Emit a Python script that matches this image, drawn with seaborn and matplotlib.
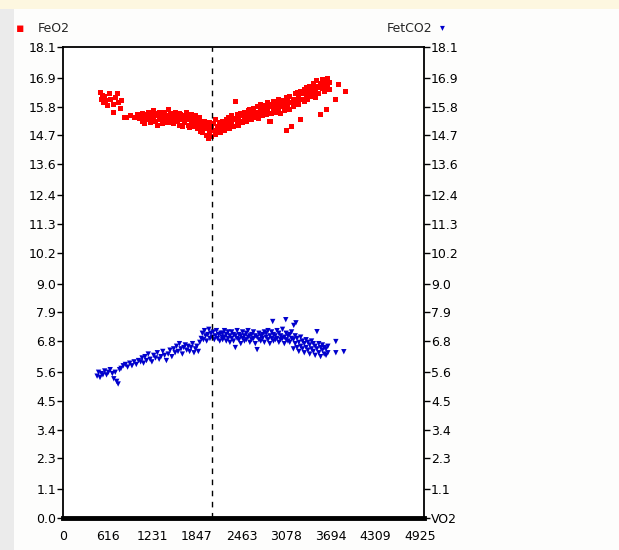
import matplotlib
matplotlib.use("Agg")
import matplotlib.pyplot as plt
import matplotlib.patches as mpatches
import numpy as np
import pandas as pd
import seaborn as sns

# ---------------- data ----------------
feo2_x = [510, 525, 540, 555, 570, 590, 610, 640, 660, 690, 700, 720, 745, 770, 790, 810,
          850, 880, 930, 980, 1020, 1060,
          1100, 1100, 1125, 1125, 1150, 1150, 1175, 1175, 1200, 1200, 1225, 1225, 1250, 1250,
          1275, 1275, 1300, 1300, 1325, 1325, 1350, 1350, 1375, 1375, 1400, 1400, 1425, 1425,
          1450, 1450, 1475, 1475, 1500, 1500,
          1525, 1525, 1550, 1550, 1575, 1575, 1600, 1600, 1625, 1625, 1650, 1650, 1675, 1675,
          1700, 1700, 1725, 1725, 1750, 1750, 1775, 1775, 1800, 1800, 1825, 1825, 1850, 1850,
          1875, 1875, 1900, 1900,
          1925, 1925, 1950, 1950, 1975, 1975, 2000, 2000, 2025, 2025, 2050, 2050, 2075, 2075,
          2100, 2100, 2125, 2125, 2150, 2150, 2175, 2175, 2200, 2200, 2225, 2225, 2250, 2250,
          2275, 2275, 2300, 2300, 2325, 2325, 2350, 2350, 2375, 2375, 2400, 2400, 2425, 2425,
          2450, 2450, 2475, 2475, 2500, 2500,
          2525, 2525, 2550, 2550, 2575, 2575, 2600, 2600, 2625, 2625, 2650, 2650, 2675, 2675,
          2700, 2700, 2725, 2725, 2750, 2750, 2775, 2775, 2800, 2800, 2825, 2825, 2850, 2850,
          2875, 2875, 2900, 2900,
          2925, 2925, 2950, 2950, 2975, 2975, 3000, 3000, 3025, 3025, 3050, 3050, 3075, 3075,
          3100, 3100, 3125, 3125, 3150, 3150, 3175, 3175, 3200, 3200,
          3225, 3225, 3250, 3250, 3275, 3275, 3300, 3300, 3325, 3325, 3350, 3350, 3375, 3375,
          3400, 3400, 3425, 3425, 3450, 3450, 3475, 3475, 3500, 3500, 3525, 3525, 3550, 3550,
          3575, 3575, 3600, 3600, 3625, 3625, 3650, 3650, 3675, 3675,
          3760, 3790, 3900, 2860]
feo2_y = [16.35, 16.1, 16.25, 15.95, 16.2, 16.05, 15.85, 16.3, 16.1, 15.9, 15.6, 16.15, 16.3, 15.95, 15.75, 16.05,
          15.4, 15.4, 15.45, 15.4, 15.5, 15.35,
          15.55, 15.25, 15.4, 15.15, 15.5, 15.3, 15.35, 15.6, 15.2, 15.45, 15.5, 15.3, 15.65, 15.35,
          15.25, 15.45, 15.55, 15.1, 15.4, 15.6, 15.3, 15.5, 15.15, 15.45, 15.6, 15.35, 15.45, 15.2,
          15.7, 15.3, 15.35, 15.55, 15.2, 15.45,
          15.5, 15.15, 15.35, 15.6, 15.25, 15.45, 15.55, 15.1, 15.3, 15.5, 15.45, 15.05, 15.2, 15.4,
          15.6, 15.3, 15.1, 15.45, 15.35, 15.0, 15.5, 15.2, 15.3, 15.05, 15.45, 15.15, 14.95, 15.3,
          15.2, 15.4, 15.05, 14.85,
          15.15, 14.8, 14.95, 15.25, 14.7, 15.05, 15.1, 14.6, 14.85, 15.2, 15.0, 14.65, 14.9, 15.15,
          14.75, 15.3, 15.05, 14.85, 15.2, 14.95, 14.8, 15.1, 15.0, 15.25, 15.15, 14.9, 15.3, 15.05,
          15.1, 15.4, 15.25, 14.95, 15.45, 15.15, 15.3, 15.05, 16.0, 15.35, 15.2, 15.5, 15.4, 15.1,
          15.25, 15.55, 15.45, 15.2, 15.35, 15.6,
          15.5, 15.25, 15.65, 15.4, 15.35, 15.7, 15.55, 15.3, 15.75, 15.45, 15.4, 15.6, 15.8, 15.5,
          15.55, 15.35, 15.7, 15.9, 15.45, 15.65, 15.85, 15.6, 15.5, 15.75, 15.95, 15.65, 15.25, 15.8,
          15.55, 15.9, 15.7, 16.0,
          15.6, 15.85, 16.0, 15.7, 15.75, 16.1, 15.55, 15.9, 16.05, 15.8, 15.65, 15.95, 14.9, 16.15,
          15.85, 16.0, 15.7, 16.2, 15.06, 15.95, 16.1, 15.8, 15.95, 16.3,
          16.05, 16.35, 16.2, 15.9, 15.3, 16.4, 16.1, 16.3, 16.45, 16.0, 16.25, 16.55, 16.1, 16.4,
          16.6, 16.3, 16.2, 16.5, 16.7, 16.35, 16.45, 16.15, 16.6, 16.8, 16.3, 16.55, 15.5, 16.7,
          16.85, 16.5, 16.4, 16.65, 15.7, 16.8, 16.55, 16.9, 16.75, 16.45,
          16.1, 16.65, 16.4, 15.25]

fetco2_x = [470, 490, 510, 530, 550, 575, 600, 625, 650, 680, 700, 720, 740, 760, 780, 800,
            830, 860, 890, 920, 950, 980, 1010, 1040,
            1070, 1090, 1110, 1130, 1150, 1175, 1200, 1225, 1250, 1275, 1300, 1325, 1350, 1375,
            1400, 1425, 1450, 1475, 1500,
            1525, 1545, 1565, 1585, 1605, 1625, 1645, 1665, 1685, 1705, 1725, 1745, 1765, 1785,
            1805, 1825, 1845, 1865, 1885,
            1905, 1920, 1935, 1950, 1965, 1980, 1995, 2010, 2025, 2040, 2055, 2070, 2085, 2100,
            2115, 2130, 2145, 2160, 2175, 2190,
            2200, 2200, 2225, 2225, 2250, 2250, 2275, 2275, 2300, 2300, 2325, 2325, 2350, 2350,
            2375, 2375, 2400, 2400, 2425, 2425, 2450, 2450, 2475, 2475, 2500, 2500, 2525, 2525,
            2550, 2550, 2575, 2575, 2600, 2600, 2625, 2625, 2650, 2650, 2675, 2675, 2700, 2700,
            2725, 2725, 2750, 2750, 2775, 2775, 2800, 2800, 2825, 2825, 2850, 2850, 2875, 2875,
            2900, 2900, 2925, 2925, 2950, 2950, 2975, 2975, 3000, 3000, 3025, 3025, 3050, 3050,
            3075, 3075, 3100, 3100, 3125, 3125, 3150, 3150,
            2890, 3070, 3210, 3180,
            3175, 3175, 3200, 3200, 3225, 3225, 3250, 3250, 3275, 3275, 3300, 3300, 3325, 3325,
            3350, 3350, 3375, 3375, 3400, 3400, 3425, 3425, 3450, 3450, 3475, 3475, 3500, 3500,
            3525, 3525, 3550, 3550, 3575, 3575, 3600, 3600, 3625, 3625, 3650, 3650,
            3760, 3760, 3870]
fetco2_y = [5.45, 5.6, 5.4, 5.55, 5.5, 5.65, 5.5, 5.6, 5.7, 5.55, 5.35, 5.6, 5.25, 5.15, 5.7, 5.75,
            5.85, 5.9, 5.8, 5.95, 5.85, 6.0, 5.9, 6.05,
            6.0, 6.15, 5.95, 6.2, 6.05, 6.3, 6.1, 6.0, 6.25, 6.15, 6.35, 6.1, 6.2, 6.4,
            6.25, 6.05, 6.3, 6.45, 6.2,
            6.5, 6.35, 6.6, 6.4, 6.7, 6.5, 6.3, 6.55, 6.65, 6.45, 6.6, 6.4, 6.55, 6.7,
            6.35, 6.5, 6.6, 6.4, 6.75,
            6.9, 7.1, 6.85, 7.2, 7.0, 6.8, 7.05, 7.25, 6.9, 7.1, 6.95, 7.15, 6.85, 7.0,
            7.2, 6.9, 7.05, 6.8, 7.1, 6.95,
            7.1, 6.85, 6.95, 7.2, 6.8, 7.05, 7.15, 6.9, 7.0, 6.75, 6.9, 7.15, 7.05, 6.8,
            6.55, 7.0, 7.2, 6.9, 6.85, 7.05, 7.0, 6.7, 7.15, 6.9, 6.8, 7.0, 7.1, 6.85,
            6.95, 7.2, 6.75, 7.0, 7.05, 6.85, 6.9, 7.15, 7.0, 6.7, 6.47, 6.95, 7.1, 6.85,
            6.8, 7.0, 7.05, 6.9, 6.75, 7.15, 6.95, 7.1, 6.85, 7.2, 7.0, 6.7, 7.15, 6.9,
            6.8, 7.05, 7.0, 6.85, 6.9, 7.2, 7.1, 6.75, 6.85, 7.0, 7.25, 6.9, 6.95, 6.7,
            7.1, 6.85, 6.8, 7.0, 7.05, 6.75, 6.9, 7.15,
            7.55, 7.62, 7.5, 7.4,
            6.85, 6.5, 6.7, 7.0, 6.55, 6.9, 6.75, 6.4, 6.95, 6.6, 6.5, 6.8, 6.7, 6.35,
            6.85, 6.55, 6.45, 6.75, 6.65, 6.3, 6.8, 6.5, 6.4, 6.7, 6.6, 6.25, 7.16, 6.5,
            6.35, 6.7, 6.55, 6.2, 6.45, 6.65, 6.3, 6.55, 6.5, 6.25, 6.35, 6.6,
            6.78, 6.35, 6.39]

y_ticks = [0.0, 1.1, 2.3, 3.4, 4.5, 5.6, 6.8, 7.9, 9.0, 10.2, 11.3, 12.4, 13.6, 14.7, 15.8, 16.9, 18.1]
y_tick_labels = ["0.0", "1.1", "2.3", "3.4", "4.5", "5.6", "6.8", "7.9", "9.0", "10.2",
                 "11.3", "12.4", "13.6", "14.7", "15.8", "16.9", "18.1"]
right_tick_labels = ["VO2"] + y_tick_labels[1:]
x_ticks = [0, 616, 1231, 1847, 2463, 3078, 3694, 4309, 4925]
x_tick_labels = ["0", "616", "1231", "1847", "2463", "3078", "3694", "4309", "4925"]
threshold_x = 2060

series_names = ["FeO2", "FetCO2"]
series_colors = ["#ff0000", "#0000cc"]

# ---------------- style ----------------
sns.set_style("white")
plt.rcParams["font.family"] = ["Liberation Sans Narrow", "DejaVu Sans"]
FS = 9

W, H = 619, 550
fig = plt.figure(figsize=(W / 100, H / 100), dpi=100)
fig.patch.set_facecolor("#fdfdfc")
fig.patches.append(mpatches.Rectangle((0, 0), 14 / W, 1, transform=fig.transFigure,
                                      facecolor="#ebebeb", edgecolor="none", zorder=0))
fig.patches.append(mpatches.Rectangle((0, 1 - 9 / H), 1, 9 / H, transform=fig.transFigure,
                                      facecolor="#fdf7e0", edgecolor="none", zorder=0))

left_px, right_px, top_px, bottom_px = 63, 424, 47, 518
ax = fig.add_axes([left_px / W, 1 - bottom_px / H, (right_px - left_px) / W,
                   (bottom_px - top_px) / H])
ax.set_facecolor("white")

df_o2 = pd.DataFrame({"VO2": feo2_x, "val": feo2_y})
df_co2 = pd.DataFrame({"VO2": fetco2_x, "val": fetco2_y})

sns.scatterplot(data=df_o2, x="VO2", y="val", ax=ax, marker="s", s=13,
                color=series_colors[0], edgecolor="none", linewidth=0, legend=False)
sns.scatterplot(data=df_co2, x="VO2", y="val", ax=ax, marker="v", s=15,
                color=series_colors[1], edgecolor="none", linewidth=0, legend=False)

ax.axvline(threshold_x, color="black", linestyle=(0, (4, 4)), linewidth=1.0, zorder=1)

ax.set_xlim(0, 4975)
ax.set_ylim(0, 18.1)
ax.set_xlabel("")
ax.set_ylabel("")
ax.set_xticks(x_ticks)
ax.set_xticklabels(x_tick_labels, fontsize=FS)
ax.set_yticks(y_ticks)
ax.set_yticklabels(y_tick_labels, fontsize=FS)
ax.tick_params(axis="y", direction="out", length=4, width=1, pad=1, colors="black")
ax.tick_params(axis="x", direction="out", length=3, width=1, pad=6, colors="black")

for side in ["left", "right", "top"]:
    ax.spines[side].set_visible(True)
    ax.spines[side].set_color("black")
    ax.spines[side].set_linewidth(1.3)
ax.spines["bottom"].set_color("black")
ax.spines["bottom"].set_linewidth(3.5)

ax2 = ax.twinx()
ax2.set_ylim(0, 18.1)
ax2.set_yticks(y_ticks)
ax2.set_yticklabels(right_tick_labels, fontsize=FS)
ax2.tick_params(axis="y", direction="out", length=4, width=1, pad=1, colors="black")
for side in ["left", "right", "top", "bottom"]:
    ax2.spines[side].set_visible(False)

fig.text(20 / W, 1 - 28 / H, "\u25aa", color=series_colors[0], fontsize=9,
         ha="center", va="center", family="DejaVu Sans")
fig.text(38 / W, 1 - 28 / H, series_names[0], fontsize=FS, ha="left", va="center")
fig.text(432 / W, 1 - 28 / H, series_names[1], fontsize=FS, ha="right", va="center")
fig.text(442 / W, 1 - 27 / H, "\u25be", color=series_colors[1], fontsize=7,
         ha="center", va="center", family="DejaVu Sans")

fig.savefig("out.png", dpi=100, facecolor=fig.get_facecolor())
